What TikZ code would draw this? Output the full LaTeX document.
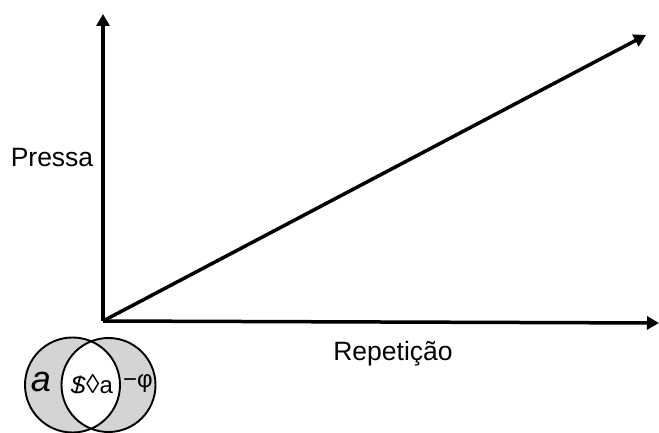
\documentclass[tikz,border=0pt]{standalone}
\usepackage{fontspec}
\setmainfont{Liberation Sans}
\usetikzlibrary{arrows.meta}
\definecolor{venngray}{RGB}{212,212,212}
\tikzset{
  axis/.style={line width=3.5pt,-{Triangle[length=12pt,width=13pt]}},
  lbl/.style={inner sep=0pt,font=\fontsize{26.5}{30}\selectfont},
  venntxt/.style={inner sep=0pt,font=\fontsize{24}{28}\selectfont},
  vennline/.style={line width=1.9pt}
}
\begin{document}
\begin{tikzpicture}[x=1pt,y=-1pt]
\useasboundingbox (0,0) rectangle (659,433);
% axes
\coordinate (o) at (103,321);
\coordinate (ytop) at (103,14);
\coordinate (xend) at (659,323);
\coordinate (dend) at (646,35);
\draw[axis] (o) -- (ytop);
\draw[axis] (o) -- (xend);
\draw[axis] (o) -- (dend);
\node[lbl,anchor=base] (pressa) at (52,167) {Pressa};
\node[lbl,anchor=base] (rep) at (393,360) {Repetição};
% venn
\coordinate (cl) at (72.5,385);
\coordinate (cr) at (108.5,385);
\fill[venngray] (cl) circle[radius=47.5];
\fill[venngray] (cr) circle[radius=47];
\begin{scope}
\clip (cl) circle[radius=47.5];
\fill[white] (cr) circle[radius=47];
\end{scope}
\draw[vennline] (cl) circle[radius=47.5];
\draw[vennline] (cr) circle[radius=47];
\node[inner sep=0pt,font=\fontsize{36}{40}\selectfont\itshape] (ta) at (41,382) {a};
\node[venntxt] (tm) at (91.5,384) {\ooalign{\textit{S}\cr\hidewidth/\hidewidth}{\fontsize{27}{30}\selectfont◊}a};
\node[venntxt] (tp) at (138,384) {−φ};
\end{tikzpicture}
\end{document}
